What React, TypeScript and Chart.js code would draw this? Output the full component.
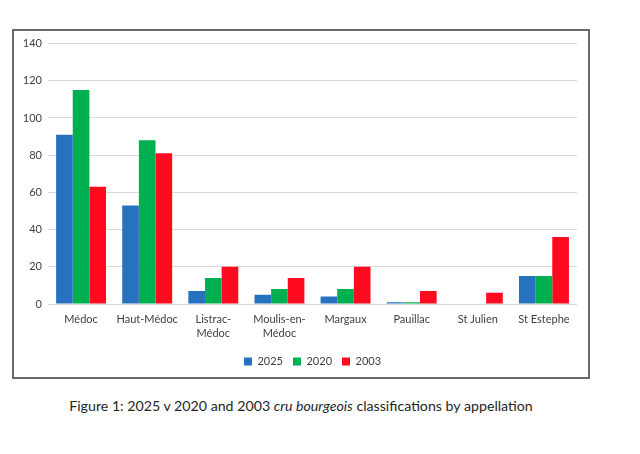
import React, { useEffect, useRef } from "react";
import { Chart, registerables } from "chart.js";

Chart.register(...registerables);

const categories: (string | string[])[] = [
  "Médoc",
  "Haut-Médoc",
  ["Listrac-", "Médoc"],
  ["Moulis-en-", "Médoc"],
  "Margaux",
  "Pauillac",
  "St Julien",
  "St Estephe",
];
const seriesNames = ["2025", "2020", "2003"];
const values2025 = [91, 53, 7, 5, 4, 1, 0, 15];
const values2020 = [115, 88, 14, 8, 8, 1, 0, 15];
const values2003 = [63, 81, 20, 14, 20, 7, 6, 36];
const seriesColors = ["#2672c0", "#00b050", "#ff0a1e"];
const yMax = 140;
const yStep = 20;
const caption = ["Figure 1: 2025 v 2020 and 2003 ", "cru bourgeois", " classifications by appellation"];

const FONT = "Lato, 'Open Sans', sans-serif";
const TEXT = "#404040";

export default function App() {
  const ref = useRef<HTMLCanvasElement | null>(null);

  useEffect(() => {
    if (!ref.current) return;
    const chart = new Chart(ref.current, {
      type: "bar",
      data: {
        labels: categories,
        datasets: [values2025, values2020, values2003].map((v, i) => ({
          label: seriesNames[i],
          data: v,
          backgroundColor: seriesColors[i],
          borderWidth: 0,
          categoryPercentage: 0.755,
          barPercentage: 1,
        })),
      },
      options: {
        animation: false,
        responsive: true,
        maintainAspectRatio: false,
        layout: { padding: { left: 0, right: 11, top: 12, bottom: 0 } },
        plugins: {
          tooltip: { enabled: false },
          legend: {
            position: "bottom",
            fullSize: false,
            labels: {
              boxWidth: 8,
              boxHeight: 8,
              padding: 10,
              color: TEXT,
              font: { family: FONT, size: 11 },
            },
          },
        },
        scales: {
          x: {
            grid: { display: false, drawTicks: false },
            border: { display: false },
            ticks: {
              color: TEXT,
              padding: 8,
              maxRotation: 0,
              autoSkip: false,
              font: { family: FONT, size: 11, lineHeight: 1.27 },
            },
            afterFit: (s: any) => {
              s.height = 42;
            },
          },
          y: {
            min: 0,
            max: yMax,
            grid: { color: "#d9d9d9", lineWidth: 1, drawTicks: false },
            border: { display: false },
            ticks: {
              stepSize: yStep,
              color: TEXT,
              padding: 6,
              font: { family: FONT, size: 11 },
            },
            afterFit: (s: any) => {
              s.width = 34;
            },
          },
        },
      },
    });
    return () => chart.destroy();
  }, []);

  return (
    <div style={{ position: "absolute", left: 0, top: 0, width: 640, height: 454, background: "#fff" }}>
      <div
        style={{
          position: "absolute",
          left: 12,
          top: 29,
          width: 578,
          height: 350,
          boxSizing: "border-box",
          border: "2px solid #6a6a6a",
          background: "#fff",
        }}
      >
        <div style={{ position: "relative", width: 574, height: 346 }}>
          <canvas ref={ref} />
        </div>
      </div>
      <div
        style={{
          position: "absolute",
          left: 12,
          width: 578,
          top: 397,
          textAlign: "center",
          fontFamily: FONT,
          fontSize: 14.2,
          color: "#262626",
          lineHeight: "18px",
          whiteSpace: "nowrap",
        }}
      >
        {caption[0]}
        <i>{caption[1]}</i>
        {caption[2]}
      </div>
    </div>
  );
}
